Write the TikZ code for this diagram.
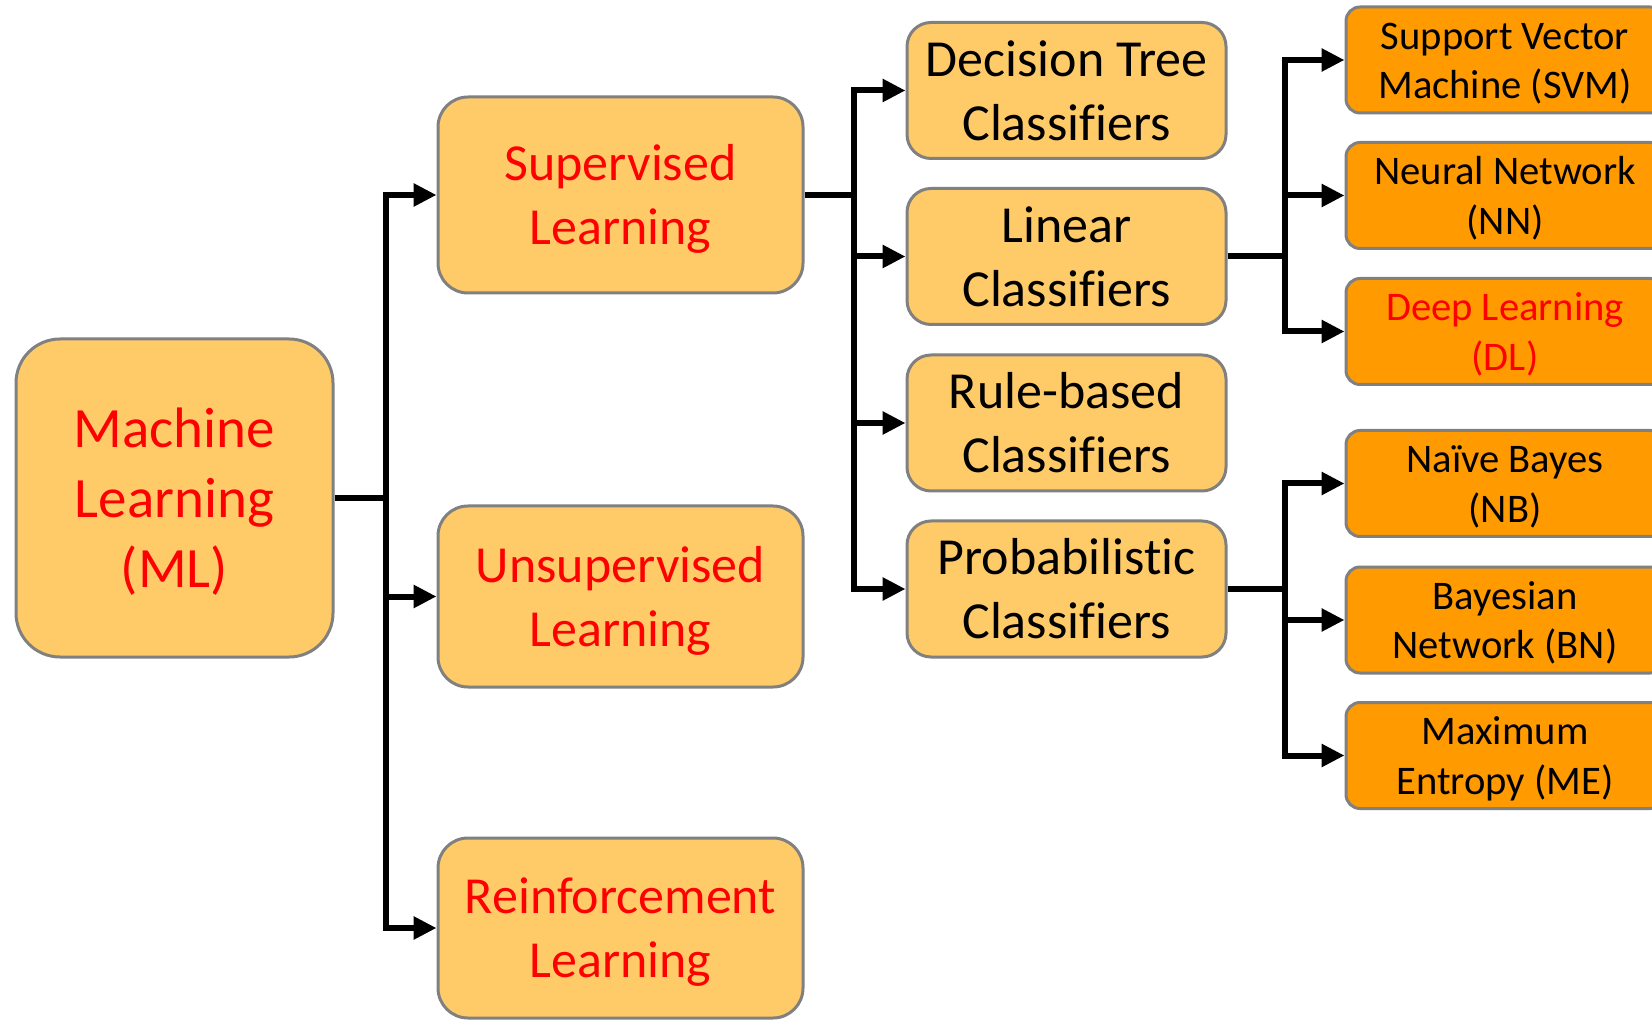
\documentclass[tikz,border=0pt]{standalone}
\usepackage{fontspec}
\setmainfont{Carlito}[Ligatures={TeX,NoCommon}]
\usepackage{xcolor}
\usetikzlibrary{arrows.meta,calc}
\definecolor{boxlight}{HTML}{FFCB69}
\definecolor{boxdark}{HTML}{FF9A00}
\definecolor{boxline}{HTML}{808080}
\definecolor{txtred}{HTML}{FF0000}
% line strut like the slide program (ascent/descent of the font)
\newcommand{\linestrut}{\rule[-0.268em]{0pt}{1.22em}}
\newcommand{\twolines}[2]{\linestrut#1\\#2\linestrut}

\begin{document}
\begin{tikzpicture}[x=0.5pt,y=-0.5pt,line join=miter,
    box/.style={draw=boxline,line width=1.5pt,rectangle,align=center,inner sep=0pt},
    rootbox/.style={box,fill=boxlight,rounded corners=22pt,minimum width=158.5pt,minimum height=159pt,text=txtred,font=\fontsize{28.5}{34.8}\selectfont},
    typebox/.style={box,fill=boxlight,rounded corners=15pt,minimum width=182.5pt,text=txtred,font=\fontsize{26}{31.8}\selectfont},
    clsbox/.style={box,fill=boxlight,rounded corners=12pt,minimum width=159.5pt,minimum height=68pt,font=\fontsize{26}{31.8}\selectfont},
    algbox/.style={box,fill=boxdark,rounded corners=7pt,minimum width=159pt,minimum height=53pt,font=\fontsize{20.3}{24.8}\selectfont},
    link/.style={line width=3pt},
    linkarr/.style={line width=3pt,-{Triangle[length=11.5pt,width=11pt]}}]
                \useasboundingbox (0,0) rectangle (1652,1020);
                % level 1
                \node[rootbox] (ml) at (174.5,498) {\linestrut Machine\\Learning\\(ML)\linestrut};
                % level 2
                \node[typebox,minimum height=98pt] (sup) at (620.5,195) {\twolines{Supervised}{Learning}};
                \node[typebox,minimum height=90.5pt] (unsup) at (620.5,596.5) {\twolines{Unsupervised}{Learning}};
                \node[typebox,minimum height=90pt] (rein) at (620.5,928) {\twolines{Reinforcement}{Learning}};
                % level 3
                \node[clsbox] (dt) at (1066.5,90.5) {\twolines{Decision Tree}{Classifiers}};
                \node[clsbox] (lin) at (1066.5,256.5) {\twolines{Linear}{Classifiers}};
                \node[clsbox] (rule) at (1066.5,423) {\twolines{Rule-based}{Classifiers}};
                \node[clsbox] (prob) at (1066.5,589) {\twolines{Probabilistic}{Classifiers}};
                % level 4
                \node[algbox] (svm) at (1505,60) {\twolines{Support Vector}{Machine (SVM)}};
                \node[algbox] (nn) at (1505,195.5) {\twolines{Neural Network}{(NN)}};
                \node[algbox,text=txtred] (dl) at (1505,331.5) {\twolines{Deep Learning}{(DL)}};
                \node[algbox] (nb) at (1505,483.5) {\twolines{Naïve Bayes}{(NB)}};
                \node[algbox] (bn) at (1505,620) {\twolines{Bayesian}{Network (BN)}};
                \node[algbox] (me) at (1505,755.5) {\twolines{Maximum}{Entropy (ME)}};
                % trunks
                \coordinate (ta) at (386,0);
                \coordinate (tb) at (854,0);
                \coordinate (tc) at (1285,0);
                \draw[link] (ml.east) -- (ml.east -| ta);
                \foreach \n in {sup,unsup,rein}
                    \draw[linkarr] (ml.east -| ta) |- (\n.west);
                \draw[link] (sup.east) -- (sup.east -| tb);
                \foreach \n in {dt,lin,rule,prob}
                    \draw[linkarr] (sup.east -| tb) |- (\n.west);
                \draw[link] (lin.east) -- (lin.east -| tc);
                \foreach \n in {svm,nn,dl}
                    \draw[linkarr] (lin.east -| tc) |- (\n.west);
                \draw[link] (prob.east) -- (prob.east -| tc);
                \foreach \n in {nb,bn,me}
                    \draw[linkarr] (prob.east -| tc) |- (\n.west);
\end{tikzpicture}
\end{document}
